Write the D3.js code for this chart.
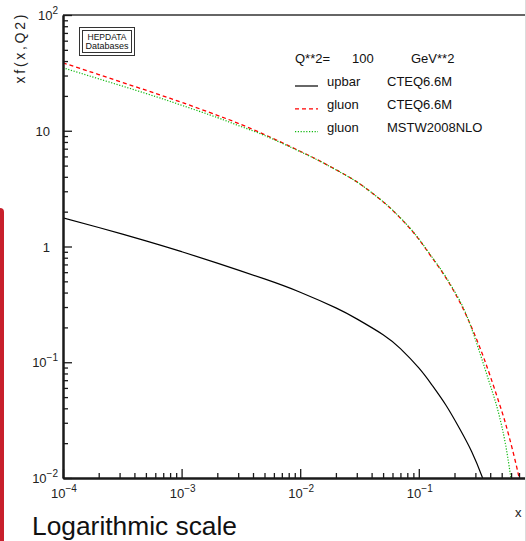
<!DOCTYPE html>
<html lang="en">
<head>
<meta charset="UTF-8">
<title>xf(x,Q2)</title>
<script src="https://d3js.org/d3.v7.min.js"></script>
<style>
  body { margin: 0; background: #fff; }
  svg { display: block; font-family: "Liberation Sans", Arial, sans-serif; }
  .axis .domain { stroke: #1a1a1a; stroke-width: 2; }
  .axis line { stroke: #1a1a1a; stroke-width: 1.3; }
  .ticklabel { font-size: 13px; fill: #222; }
  .legend text { font-size: 13px; fill: #111; }
</style>
</head>
<body>
<svg id="pdf" width="526" height="541"></svg>
<script>
// upbar, CTEQ6.6M
const upbarX    = [1e-4, 2e-4, 5e-4, 1e-3, 2e-3, 5e-3, 1e-2, 2e-2, 3e-2, 5e-2, 7e-2, 0.1, 0.13, 0.17, 0.22, 0.28, 0.34, 0.38];
const upbarCTEQ = [1.77, 1.46, 1.12, 0.903, 0.719, 0.525, 0.403, 0.295, 0.237, 0.173, 0.131, 0.0893, 0.063, 0.0423, 0.0269, 0.0168, 0.0104, 0.0074];

// gluon, CTEQ6.6M
const gluonCTEQX = [1e-4, 2e-4, 5e-4, 1e-3, 2e-3, 3e-3, 5e-3, 1e-2, 0.015, 0.025, 0.035, 0.05, 0.063, 0.08, 0.1, 0.125, 0.16, 0.2, 0.25, 0.32, 0.4, 0.5, 0.55, 0.6, 0.65, 0.69, 0.73];
const gluonCTEQ  = [38.6, 30.6, 22.4, 17.6, 13.6, 11.6, 9.27, 6.65, 5.41, 4.06, 3.24, 2.43, 1.96, 1.52, 1.156, 0.84, 0.587, 0.402, 0.257, 0.142, 0.076, 0.038, 0.0274, 0.0196, 0.0141, 0.0108, 0.0082];

// gluon, MSTW2008NLO
const gluonMSTWX = [1e-4, 2e-4, 5e-4, 1e-3, 2e-3, 3e-3, 5e-3, 1e-2, 0.015, 0.025, 0.035, 0.05, 0.063, 0.08, 0.1, 0.125, 0.16, 0.2, 0.25, 0.32, 0.4, 0.45, 0.5, 0.55, 0.59, 0.62];
const gluonMSTW  = [35.0, 28.1, 21.0, 16.6, 13.0, 11.1, 9.1, 6.6, 5.39, 4.05, 3.24, 2.44, 1.97, 1.53, 1.165, 0.85, 0.595, 0.41, 0.262, 0.129, 0.0635, 0.0431, 0.0282, 0.0173, 0.0109, 0.0078];

// tick labels
const xTickValues = [1e-4, 1e-3, 1e-2, 1e-1];
const xTickExp    = ["\u22124", "\u22123", "\u22122", "\u22121"];
const yTickValues = [1e-2, 1e-1, 1, 10, 100];
const yTickBase   = ["10", "10", "1", "10", "10"];
const yTickExp    = ["\u22122", "\u22121", "", "", "2"];

// legend
const legendParts = ["upbar", "gluon", "gluon"];
const legendSets  = ["CTEQ6.6M", "CTEQ6.6M", "MSTW2008NLO"];

const svg = d3.select("svg#pdf");
const W = +svg.attr("width");
const H = +svg.attr("height");

svg.append("rect").attr("width", W).attr("height", H).attr("fill", "#fff");

// one decade is about 118.6px on x; the frame runs past the right edge
const x = d3.scaleLog().domain([1e-4, 1]).range([63, 537.4]);
const y = d3.scaleLog().domain([1e-2, 1e2]).range([478, 15]);

// minor tick positions
const minorOf = (lo, hi) => {
  let out = [];
  for (let e = lo; e < hi; e++) {
    for (let k = 2; k <= 9; k++) out.push(k * Math.pow(10, e));
  }
  return out;
};

// frame top / right
svg.append("line")
   .attr("x1", x(1e-4)).attr("x2", x(1))
   .attr("y1", y(100)).attr("y2", y(100))
   .attr("stroke", "#333").attr("stroke-width", 1.5);
svg.append("line")
   .attr("x1", x(1)).attr("x2", x(1))
   .attr("y1", y(100)).attr("y2", y(0.01))
   .attr("stroke", "#333").attr("stroke-width", 1.5);

// curves
svg.append("clipPath").attr("id", "plotclip")
   .append("rect")
   .attr("x", x(1e-4)).attr("y", y(100))
   .attr("width", x(1) - x(1e-4)).attr("height", y(0.01) - y(100));

const line = d3.line()
               .x(d => x(d[0]))
               .y(d => y(d[1]))
               .curve(d3.curveNatural);

const series = [
  {xs: upbarX, ys: upbarCTEQ, color: "#000", dash: null, w: 1.2},
  {xs: gluonCTEQX, ys: gluonCTEQ, color: "#ff0000", dash: "4,3", w: 1.3},
  {xs: gluonMSTWX, ys: gluonMSTW, color: "#11b811", dash: "1.2,1.6", w: 1.2}
];

const curves = svg.append("g").attr("clip-path", "url(#plotclip)");
series.forEach(s => {
  curves.append("path")
        .datum(d3.zip(s.xs, s.ys))
        .attr("d", line)
        .attr("fill", "none")
        .attr("stroke", s.color)
        .attr("stroke-width", s.w)
        .attr("stroke-dasharray", s.dash);
});

// axes: ticks point into the frame
svg.append("g").attr("class", "axis")
   .attr("transform", `translate(${x(1e-4)},0)`)
   .call(d3.axisRight(y).tickValues(minorOf(-2, 2)).tickSize(5).tickSizeOuter(0).tickFormat(""));
svg.append("g").attr("class", "axis")
   .attr("transform", `translate(${x(1e-4)},0)`)
   .call(d3.axisRight(y).tickValues(yTickValues).tickSize(9).tickSizeOuter(0).tickFormat(""));

svg.append("g").attr("class", "axis")
   .attr("transform", `translate(0,${y(0.01)})`)
   .call(d3.axisTop(x).tickValues(minorOf(-4, 0)).tickSize(5).tickSizeOuter(0).tickFormat(""));
svg.append("g").attr("class", "axis")
   .attr("transform", `translate(0,${y(0.01)})`)
   .call(d3.axisTop(x).tickValues(xTickValues).tickSize(9).tickSizeOuter(0).tickFormat(""));

// x tick labels
xTickValues.forEach((v, i) => {
  let t = svg.append("text")
             .attr("class", "ticklabel")
             .attr("x", x(v) + 1)
             .attr("y", 498)
             .attr("text-anchor", "middle");
  t.append("tspan").text("10");
  t.append("tspan").attr("dy", -6).attr("font-size", 10).text(xTickExp[i]);
});

// y tick labels
yTickValues.forEach((v, i) => {
  let t = svg.append("text")
             .attr("class", "ticklabel")
             .attr("x", yTickExp[i] ? 58 : 50)
             .attr("y", y(v) + 5)
             .attr("text-anchor", "end");
  t.append("tspan").text(yTickBase[i]);
  if (yTickExp[i]) {
    t.append("tspan").attr("dy", -6).attr("font-size", 10).text(yTickExp[i]);
  }
});

// axis titles
svg.append("text")
   .attr("transform", "translate(25,12) rotate(-90)")
   .attr("text-anchor", "end")
   .style("font-size", "14px")
   .style("letter-spacing", "2.7px")
   .attr("fill", "#222")
   .text("xf(x,Q2)");

svg.append("text")
   .attr("x", 515).attr("y", 517)
   .style("font-size", "13px")
   .attr("fill", "#222")
   .text("x");

// HEPDATA stamp
svg.append("rect").attr("x", 79.5).attr("y", 27.5).attr("width", 55).attr("height", 28)
   .attr("fill", "#fff").attr("stroke", "#333").attr("stroke-width", 1);
svg.append("rect").attr("x", 82.5).attr("y", 30.5).attr("width", 49).attr("height", 22)
   .attr("fill", "none").attr("stroke", "#333").attr("stroke-width", 1);
svg.append("text").attr("x", 107).attr("y", 39.5).attr("text-anchor", "middle")
   .style("font-size", "8.5px").attr("fill", "#111").text("HEPDATA");
svg.append("text").attr("x", 107).attr("y", 48.5).attr("text-anchor", "middle")
   .style("font-size", "9px").attr("fill", "#111").text("Databases");

// legend
const legend = svg.append("g").attr("class", "legend");
legend.append("text").attr("x", 295).attr("y", 63).text("Q**2=");
legend.append("text").attr("x", 352).attr("y", 63).text("100");
legend.append("text").attr("x", 411).attr("y", 63).text("GeV**2");

legendParts.forEach((p, i) => {
  let yy = 86 + i * 22.8;
  legend.append("line")
        .attr("x1", 295).attr("x2", 318)
        .attr("y1", yy).attr("y2", yy)
        .attr("stroke", series[i].color)
        .attr("stroke-width", series[i].w)
        .attr("stroke-dasharray", series[i].dash);
  legend.append("text").attr("x", 327).attr("y", yy).text(p);
  legend.append("text").attr("x", 387).attr("y", yy).text(legendSets[i]);
});

// caption under the chart
svg.append("text")
   .attr("x", 32).attr("y", 535)
   .style("font-size", "25px")
   .attr("textLength", 205)
   .attr("lengthAdjust", "spacingAndGlyphs")
   .attr("fill", "#111")
   .text("Logarithmic scale");

// slide edge decorations
svg.append("rect").attr("x", -4).attr("y", 208).attr("width", 8).attr("height", 400)
   .attr("rx", 4).attr("fill", "#c8202c");
svg.append("line").attr("x1", 525.5).attr("x2", 525.5).attr("y1", 0).attr("y2", H)
   .attr("stroke", "#dcdcdc").attr("stroke-width", 1);
</script>
</body>
</html>
